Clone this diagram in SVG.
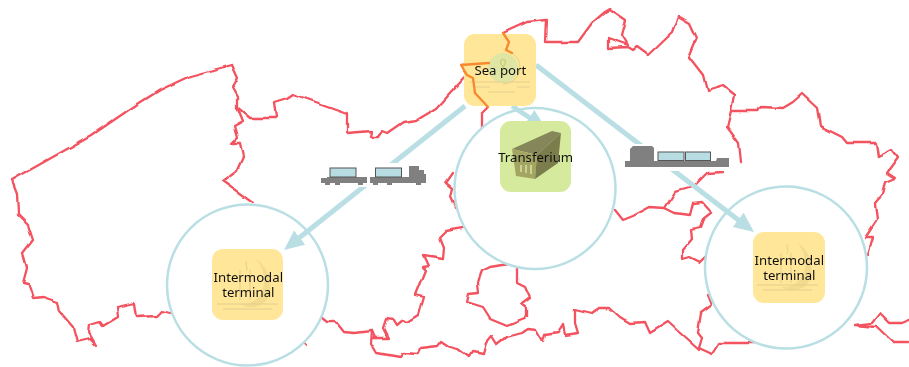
<svg xmlns="http://www.w3.org/2000/svg" width="909" height="367" viewBox="0 0 909 367">
<defs>
<marker id="head" viewBox="0 0 20 18" refX="8" refY="9" markerWidth="20" markerHeight="18" markerUnits="userSpaceOnUse" orient="auto"><path d="M0 0L20 9L0 18Z" fill="#b9dfe4"/></marker>
<filter id="wig" filterUnits="userSpaceOnUse" x="0" y="0" width="909" height="367">
<feTurbulence type="fractalNoise" baseFrequency="0.06" numOctaves="1" seed="4" result="n"/>
<feDisplacementMap in="SourceGraphic" in2="n" scale="5" xChannelSelector="R" yChannelSelector="G"/>
<feGaussianBlur stdDeviation="0.4"/>
</filter>
<filter id="soft" filterUnits="userSpaceOnUse" x="0" y="0" width="909" height="367"><feGaussianBlur stdDeviation="0.3"/></filter>
<style>
.map{fill:none;stroke:#f2525f;stroke-width:2.300;stroke-linejoin:round;stroke-linecap:round}
.over{fill:none;stroke:#f8892e;stroke-width:2.300;stroke-linejoin:round;stroke-linecap:round}
.ring{fill:#fff;stroke:#b9dfe4;stroke-width:2.500}
.flow{fill:none;stroke:#b9dfe4;stroke-width:5;marker-end:url(#head)}
.port{fill:#ffe699}
.green{fill:#d5ea9c}
.mark{fill:none;stroke:#e3cf8e;stroke-width:1}
.cres{fill:#f2da8e}
.lbl{font-family:"Noto Sans","DejaVu Sans",sans-serif;font-size:13.200px;fill:#111;text-anchor:middle}
.grey{fill:#808080}
.box{fill:#b7dde3;stroke:#555;stroke-width:1}
</style>
</defs>
<g id="map" filter="url(#wig)">
<path class="map" d="M232 65L238 78L232 88L237 97L237 107L243 122L234 127L237 138L232 143L240 143L243 157L237 170L222 181L253 203"/>
<path class="map" d="M232 65L190 76L160 90L133 107L92 135L12 180L17 193L18 215L28 225L33 240L23 253L27 267L23 282L28 283L33 298L43 297L58 302L60 312L73 327L77 342L90 339L96 345L89 333L90 325L100 322L103 326L118 317L117 307L135 303L137 317L157 316L162 311L170 313"/>
<path class="map" d="M237 107L250 118L276 118L274 102L287 98L293 94L347 113L347 133L372 131L371 137L378 137L382 131L387 133L403 122L417 120L437 108L467 75L461 65L489 63"/>
<path class="map" d="M467 75L473 78L475 93L488 107L482 113L482 127"/>
<path class="map" d="M512 53L506 50L509 42L503 33L527 22L547 20L546 42L578 42L592 23L605 12L610 9L626 20L622 35L628 45L608 38L608 48L628 47L633 50L637 47L648 55L672 32L678 16L690 23L697 38L689 57L703 75L707 91L723 86L734 95L731 111L757 111L762 107L783 108L793 102L802 94L817 108L820 126L842 137L847 143L876 143L878 157L892 150L898 158L887 173L895 178L885 182L882 195L875 203L877 220L865 238L873 238L868 255"/>
<path class="map" d="M731 111L727 127L739 143L741 162"/>
<path class="map" d="M723 172L707 173L700 180L693 187L675 192L665 208L650 207L633 216L623 220L615 210"/>
<path class="map" d="M665 208L675 213L690 215L693 203L702 202L712 213L703 220L700 228L692 230L693 238L683 250L683 260L690 258L700 263L705 258"/>
<path class="map" d="M708 295L712 305L701 313L698 333L702 338L699 348L712 354L719 343L747 343L756 343"/>
<path class="map" d="M699 350L680 333L668 322L650 333L645 322L630 323L620 317L610 308L600 308L592 314L575 310L575 323L578 333L565 335L563 325L558 333L545 335L543 342L536 330L528 329L522 333L507 337L497 345L492 337L487 343L484 354L472 352L469 357L458 349L450 347L441 341L437 346L420 348L418 354L403 353L400 357L377 353L371 343L372 331L355 333L343 332L335 322L328 322L323 318"/>
<path class="map" d="M372 338L388 338L383 328L386 319L393 320L396 325L402 320L407 322L418 315L423 297L415 295L425 270L422 267L428 266L423 255L443 258L444 247L440 237L446 231L463 228"/>
<path class="map" d="M372 331L375 338"/>
<path class="map" d="M453 173L446 183L452 188L450 196L453 203L456 208"/>
<path class="map" d="M508 264L490 267L482 271L478 282L479 293L469 294L467 302L483 307L490 318L507 325L527 317L527 308L522 304L530 298L525 287L517 283L517 267"/>
<path class="map" d="M909 320L902 323L890 323L880 313L872 323L855 325L877 327L893 342L909 342"/>
<path class="map" d="M305 343L306 344"/>
</g>
<g id="circles">
<circle class="ring" cx="247.500" cy="285" r="80.500"/>
<circle class="ring" cx="535" cy="188.500" r="80.500"/>
<circle class="ring" cx="786" cy="267.500" r="81"/>
</g>
<g id="connectors">
<path class="flow" d="M465 106L293.400 242.500"/>
<path class="flow" d="M512 106L536 122"/>
<path class="flow" d="M536 65L744.500 224.700"/>
</g>
<g id="road-train" filter="url(#soft)">
<rect x="320" y="163" width="108" height="24" fill="#fff"/>
<path class="grey" d="M321 178H327V177H367V183H363V185H358V183H340V185H335V183H330V185H325V183H321ZM370 177H409V166H419V170H424V174H426V183H421V185H416V183H392V185H387V183H378V185H373V183H370Z"/>
<rect class="box" x="330" y="168" width="26" height="9"/>
<rect class="box" x="375.500" y="168" width="26" height="9"/>
</g>
<g id="barge" filter="url(#soft)">
<rect x="622" y="144" width="113" height="27" fill="#fff"/>
<path class="grey" d="M625 161H630V149L633 146H652L654 148V161H716L717 158H729V167H625Z"/>
<rect class="box" x="658" y="152" width="26" height="8.500"/>
<rect class="box" x="685.500" y="152" width="25" height="8.500"/>
</g>
<g id="sea-port" filter="url(#soft)">
<rect class="port" x="464" y="34" width="72" height="72" rx="11"/>
<path d="M512 53A17 17 0 0 1 520 68A17 17 0 0 1 503 84" class="mark"/>
<circle cx="503" cy="68" r="15" fill="#dfe6a4"/>
<path d="M503 62m-2.500 0a2.500 2.500 0 1 1 5 0c0 2-2.500 4-2.500 6c0-2-2.500-4-2.500-6z" fill="none" stroke="#c9cc72" stroke-width="1.200"/>
<path class="mark" d="M470 82H530M473 87H490M517 87H530M488 92H515"/>
<path class="over" d="M503 33L509 42L506 50L512 53"/>
<path class="over" d="M464 71L467 75L461 65L489 63M467 75L473 78L475 93L488 107"/>
<text class="lbl" x="500.300" y="75">Sea port</text>
</g>
<g id="transferium" filter="url(#soft)">
<rect class="green" x="500" y="121" width="71" height="71" rx="11"/>
<path d="M512 149L552 131L561 133L537 155Z" fill="#85875a"/>
<path d="M512 149L537 155L535 179L516 176Z" fill="#a3a563"/>
<path d="M537 155L561 133L558 163L535 179Z" fill="#7b7d4e"/>
<path d="M521 165V172M526 165V173M531 165V174" stroke="#cfd194" stroke-width="2" fill="none"/>
<text class="lbl" x="535.700" y="161.500">Transferium</text>
</g>
<g id="terminal-left" filter="url(#soft)">
<rect class="port" x="212" y="249" width="71" height="71" rx="11"/>
<path class="cres" d="M255 259C270 266 275 290 266 301C260 308 248 309 240 304C252 305 262 298 264 284C265 274 262 265 255 259Z"/>
<path class="mark" d="M247 261C244 265 249 267 246 271M240 270V300M250 270V300M217 304H278M223 309H272"/>
<text class="lbl" x="248.300" y="281.500">Intermodal</text>
<text class="lbl" x="248.300" y="296.500">terminal</text>
</g>
<g id="terminal-right" filter="url(#soft)">
<rect class="port" x="753" y="232" width="72" height="71" rx="11"/>
<path class="cres" d="M796 242C811 249 816 273 807 284C801 291 789 292 781 287C793 288 803 281 805 267C806 257 803 248 796 242Z"/>
<path class="mark" d="M788 244C785 248 790 250 787 254M781 253V283M791 253V283M757 285H818M763 290H812"/>
<text class="lbl" x="789.300" y="265">Intermodal</text>
<text class="lbl" x="789.300" y="280">terminal</text>
</g>
</svg>
